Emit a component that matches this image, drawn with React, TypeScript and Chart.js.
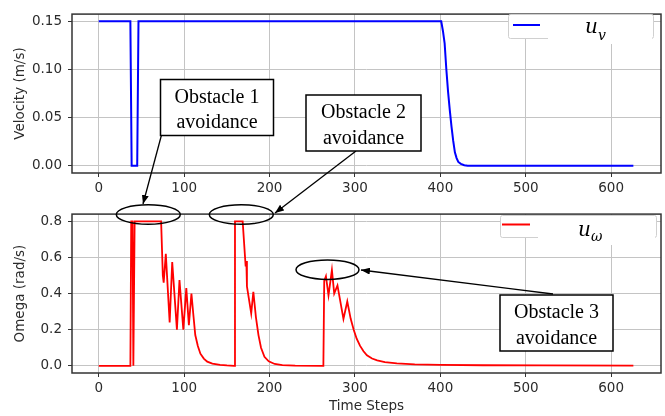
import React, { useEffect, useRef } from 'react';
import { Chart, registerables } from 'chart.js';

Chart.register(...registerables);

// ---- data ----
const xTicks = [0, 100, 200, 300, 400, 500, 600];
const velocityTicks = [0, 0.05, 0.1, 0.15];
const omegaTicks = [0, 0.2, 0.4, 0.6, 0.8];

const velocitySteps = [0, 37, 38.5, 45, 46.5, 401, 403, 405, 407, 409, 411, 413, 415, 417, 419, 421, 424, 428, 432, 626];
const velocityValues = [0.15, 0.15, 0, 0, 0.15, 0.15, 0.14, 0.127, 0.1, 0.077, 0.058, 0.041, 0.026, 0.014, 0.008, 0.004, 0.002, 0.0005, 0, 0];

const omegaSteps = [
  0, 37, 38, 39.5, 40.5, 41, 42, 73, 75, 76, 78.5, 83, 86, 91.5, 94.5, 99, 102.5, 105.5, 108.5,
  111, 113, 116, 119, 123, 127, 133, 142, 150, 158.5, 159.5, 168.5, 172, 172.8, 173.5, 178.5, 181,
  184, 187, 190, 194, 199, 206, 215, 230, 263, 264, 266, 269, 273, 275.7, 279.5, 286.5, 291, 295,
  298.5, 302, 306, 310, 314, 320, 326, 335, 349, 370, 400, 450, 520, 626,
];
const omegaValues = [
  0, 0, 0.8, 0.8, 0, 0, 0.8, 0.8, 0.5, 0.46, 0.62, 0.24, 0.575, 0.2, 0.475, 0.2, 0.43, 0.225, 0.4,
  0.27, 0.17, 0.11, 0.067, 0.04, 0.023, 0.012, 0.005, 0.002, 0, 0.8, 0.8, 0.55, 0.58, 0.44, 0.29, 0.41,
  0.27, 0.17, 0.1, 0.05, 0.025, 0.01, 0.004, 0.001, 0, 0.47, 0.496, 0.39, 0.53, 0.4, 0.445, 0.26, 0.356, 0.26,
  0.2, 0.15, 0.11, 0.08, 0.058, 0.04, 0.03, 0.02, 0.013, 0.008, 0.005, 0.003, 0.002, 0.001,
];

const xTitle = 'Time Steps';
const velocityTitle = 'Velocity (m/s)';
const omegaTitle = 'Omega (rad/s)';
const annotationLines = [
  ['Obstacle 1', 'avoidance'],
  ['Obstacle 2', 'avoidance'],
  ['Obstacle 3', 'avoidance'],
];

const velocityColor = '#0000ff';
const omegaColor = '#ff0000';
const gridColor = '#c4c4c4';
const frameColor = '#333333';
const textColor = '#2b2b2b';
const tickFont = { family: 'DejaVu Sans', size: 13.5 };

const framePlugin = {
  id: 'frame',
  afterDraw(chart: any) {
    const { ctx, chartArea } = chart;
    ctx.save();
    ctx.strokeStyle = frameColor;
    ctx.lineWidth = 1.5;
    ctx.strokeRect(chartArea.left, chartArea.top, chartArea.right - chartArea.left, chartArea.bottom - chartArea.top);
    ctx.restore();
  },
};

function makeConfig(opts: {
  steps: number[];
  values: number[];
  color: string;
  width: number;
  yMin: number;
  yMax: number;
  yTicks: number[];
  decimals: number;
  yTitle: string;
  xTitle?: string;
  xHeight: number;
}): any {
  const data = opts.steps.map((s, i) => ({ x: s, y: opts.values[i] }));
  return {
    type: 'line',
    data: {
      datasets: [
        {
          data,
          borderColor: opts.color,
          borderWidth: opts.width,
          pointRadius: 0,
          fill: false,
          tension: 0,
        },
      ],
    },
    options: {
      responsive: false,
      animation: false,
      devicePixelRatio: 1,
      layout: { padding: { left: 0, right: 4, top: 7, bottom: 0 } },
      plugins: { legend: { display: false }, tooltip: { enabled: false } },
      scales: {
        x: {
          type: 'linear',
          min: -31.35,
          max: 658.35,
          afterBuildTicks: (s: any) => {
            s.ticks = xTicks.map((v) => ({ value: v }));
          },
          afterFit: (s: any) => {
            s.height = opts.xHeight;
          },
          ticks: { font: tickFont, color: textColor, padding: 3, callback: (v: any) => String(v) },
          grid: { color: gridColor, tickColor: frameColor, tickLength: 4, lineWidth: 1 },
          border: { display: false },
          title: opts.xTitle
            ? { display: true, text: opts.xTitle, font: tickFont, color: textColor, padding: { top: 0, bottom: 1.2 } }
            : { display: false },
        },
        y: {
          min: opts.yMin,
          max: opts.yMax,
          afterBuildTicks: (s: any) => {
            s.ticks = opts.yTicks.map((v) => ({ value: v }));
          },
          afterFit: (s: any) => {
            s.width = 72;
          },
          ticks: {
            font: tickFont,
            color: textColor,
            padding: 6,
            callback: (v: any) => Number(v).toFixed(opts.decimals),
          },
          grid: { color: gridColor, tickColor: frameColor, tickLength: 4, lineWidth: 1 },
          border: { display: false },
          title: { display: true, text: opts.yTitle, font: tickFont, color: textColor, padding: { top: 12, bottom: 0 } },
        },
      },
    },
    plugins: [framePlugin],
  };
}

const serif = 'Liberation Serif';
const mathFont = 'DejaVu Serif';

function AnnotationBox(props: { x: number; y: number; w: number; h: number; lines: string[] }) {
  const cx = props.x + props.w / 2;
  return (
    <g>
      <rect x={props.x} y={props.y} width={props.w} height={props.h} fill="#fff" stroke="#000" strokeWidth={1.5} />
      <text x={cx} y={props.y + 23} textAnchor="middle" fontFamily={serif} fontSize={20} fill="#000">
        {props.lines[0]}
      </text>
      <text x={cx} y={props.y + 48.5} textAnchor="middle" fontFamily={serif} fontSize={20} fill="#000">
        {props.lines[1]}
      </text>
    </g>
  );
}

export default function App() {
  const topRef = useRef<HTMLCanvasElement>(null);
  const bottomRef = useRef<HTMLCanvasElement>(null);

  useEffect(() => {
    const top = new Chart(
      topRef.current as HTMLCanvasElement,
      makeConfig({
        steps: velocitySteps,
        values: velocityValues,
        color: velocityColor,
        width: 2,
        yMin: -0.0075,
        yMax: 0.1575,
        yTicks: velocityTicks,
        decimals: 2,
        yTitle: velocityTitle,
        xHeight: 27,
      })
    );
    const bottom = new Chart(
      bottomRef.current as HTMLCanvasElement,
      makeConfig({
        steps: omegaSteps,
        values: omegaValues,
        color: omegaColor,
        width: 1.8,
        yMin: -0.04,
        yMax: 0.84,
        yTicks: omegaTicks,
        decimals: 1,
        yTitle: omegaTitle,
        xTitle: xTitle,
        xHeight: 43,
      })
    );
    return () => {
      top.destroy();
      bottom.destroy();
    };
  }, []);

  return (
    <div style={{ position: 'fixed', left: 0, top: 0, width: 665, height: 416, background: '#fff', overflow: 'hidden' }}>
      <canvas ref={topRef} width={665} height={200} style={{ position: 'absolute', left: 0, top: 0, width: 665, height: 200 }} />
      <canvas ref={bottomRef} width={665} height={216} style={{ position: 'absolute', left: 0, top: 200, width: 665, height: 216 }} />
      <svg width={665} height={416} style={{ position: 'absolute', left: 0, top: 0, pointerEvents: 'none' }}>
        <defs>
          <marker id="ah" markerWidth="9" markerHeight="7" refX="9" refY="3.5" orient="auto" markerUnits="userSpaceOnUse">
            <path d="M0,0 L9,3.5 L0,7 z" fill="#000" />
          </marker>
        </defs>
        {/* legend: velocity */}
        <rect x={508.5} y={14.5} width={145} height={24} rx={2} fill="#fff" stroke="#d0d0d0" strokeWidth={1} />
        <rect x={548} y={16} width={104} height={28} fill="#fff" />
        <line x1={513} x2={540} y1={25} y2={25} stroke={velocityColor} strokeWidth={2} />
        <text x={585} y={33} fontFamily={mathFont} fontStyle="italic" fontSize={20} fill="#000">
          u<tspan fontSize={14} dy={7}>v</tspan>
        </text>
        {/* legend: omega */}
        <rect x={500.5} y={215.5} width={156} height={22} rx={2} fill="#fff" stroke="#d0d0d0" strokeWidth={1} />
        <rect x={538} y={217} width={117} height={28} fill="#fff" />
        <line x1={502} x2={530} y1={224.5} y2={224.5} stroke={omegaColor} strokeWidth={2} />
        <text x={578} y={236} fontFamily={mathFont} fontStyle="italic" fontSize={20} fill="#000">
          u<tspan fontSize={14} dy={5}>ω</tspan>
        </text>
        {/* ellipses */}
        <ellipse cx={148.3} cy={214.5} rx={32} ry={9.7} fill="none" stroke="#000" strokeWidth={1.5} />
        <ellipse cx={241.3} cy={214.5} rx={32} ry={9.7} fill="none" stroke="#000" strokeWidth={1.5} />
        <ellipse cx={327.5} cy={269.7} rx={31.5} ry={9.7} fill="none" stroke="#000" strokeWidth={1.5} />
        {/* arrows */}
        <line x1={161.5} y1={135} x2={143} y2={204} stroke="#000" strokeWidth={1.3} markerEnd="url(#ah)" />
        <line x1={356} y1={151} x2={275} y2={213} stroke="#000" strokeWidth={1.3} markerEnd="url(#ah)" />
        <line x1={553} y1={294} x2={361} y2={270} stroke="#000" strokeWidth={1.3} markerEnd="url(#ah)" />
        {/* boxes */}
        <AnnotationBox x={160.5} y={79.5} w={113} h={56} lines={annotationLines[0]} />
        <AnnotationBox x={306} y={95} w={115} h={56} lines={annotationLines[1]} />
        <AnnotationBox x={500} y={295} w={113} h={56} lines={annotationLines[2]} />
      </svg>
    </div>
  );
}
